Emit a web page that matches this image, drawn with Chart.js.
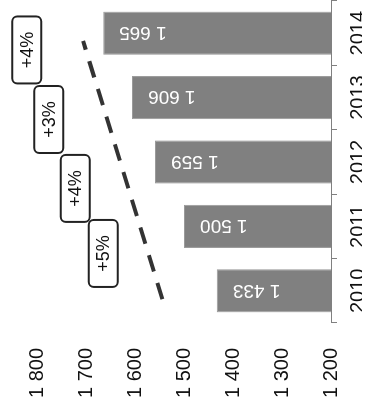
<!DOCTYPE html>
<html><head><meta charset="utf-8">
<script src="https://cdn.jsdelivr.net/npm/chart.js@4"></script>
<style>
html,body{margin:0;padding:0;background:#fff;overflow:hidden;width:368px;height:400px;}
#wrap{position:absolute;left:-16px;top:16px;width:400px;height:368px;transform:rotate(-90deg);transform-origin:50% 50%;}
canvas{display:block;}
</style></head><body>
<div id="wrap"><canvas id="c" width="400" height="368"></canvas></div>
<script>
const years = ['2010', '2011', '2012', '2013', '2014'];
const values = [1433, 1500, 1559, 1606, 1665];
const yTicks = [1200, 1300, 1400, 1500, 1600, 1700, 1800];
const growthLabels = ['+5%', '+4%', '+3%', '+4%'];
const trendX = [-0.13, 3.88];
const trendY = [1544, 1706];

const FONT = '"Liberation Sans", Arial, sans-serif';
const fmt = v => String(v).replace(/\B(?=(\d{3})+(?!\d))/g, ' ');

const barLabels = {
  id: 'barLabels',
  afterDatasetsDraw(chart) {
    const ctx = chart.ctx;
    const meta = chart.getDatasetMeta(0);
    ctx.save();
    ctx.fillStyle = '#ffffff';
    ctx.font = '19px ' + FONT;
    ctx.textAlign = 'right';
    ctx.textBaseline = 'middle';
    meta.data.forEach((bar, i) => {
      ctx.save();
      ctx.translate(bar.x, bar.y + 16);
      ctx.rotate(-Math.PI / 2);
      ctx.fillText(fmt(values[i]), 0, 1);
      ctx.restore();
    });
    ctx.restore();
  }
};

const growthBoxes = {
  id: 'growthBoxes',
  afterDraw(chart, args, opts) {
    const ctx = chart.ctx;
    const xs = chart.scales.x2, ys = chart.scales.y;
    ctx.save();
    ctx.font = '18px ' + FONT;
    ctx.textAlign = 'center';
    ctx.textBaseline = 'middle';
    growthLabels.forEach((t, i) => {
      const a = opts.anchors[i];
      const cx = xs.getPixelForValue(a[0]);
      const cy = ys.getPixelForValue(a[1]);
      const w = opts.w, h = opts.h;
      ctx.beginPath();
      ctx.roundRect(cx - w / 2, cy - h / 2, w, h, opts.r);
      ctx.fillStyle = '#ffffff';
      ctx.fill();
      ctx.lineWidth = 2;
      ctx.strokeStyle = '#222222';
      ctx.stroke();
      ctx.fillStyle = '#111111';
      ctx.fillText(t, cx, cy + 1);
    });
    ctx.restore();
  }
};

new Chart(document.getElementById('c'), {
  type: 'bar',
  data: {
    labels: years,
    datasets: [
      {
        type: 'bar',
        data: values,
        backgroundColor: '#808080',
        borderColor: '#9a9a9a',
        borderWidth: 1,
        categoryPercentage: 1,
        barPercentage: 0.67,
        grouped: false,
        xAxisID: 'x',
        yAxisID: 'y',
        order: 2
      },
      {
        type: 'line',
        data: trendX.map((x, i) => ({ x: x, y: trendY[i] })),
        xAxisID: 'x2',
        yAxisID: 'y',
        borderColor: '#333333',
        borderWidth: 4,
        borderDash: [17, 12],
        borderCapStyle: 'butt',
        pointRadius: 0,
        fill: false,
        order: 1
      }
    ]
  },
  options: {
    responsive: false,
    devicePixelRatio: 1,
    animation: false,
    events: [],
    layout: { padding: { top: 37, right: 1, left: 0, bottom: 0 } },
    plugins: {
      legend: { display: false },
      tooltip: { enabled: false },
      growthBoxes: { anchors: [[0.58, 1665], [1.59, 1722], [2.66, 1776], [3.74, 1821]], w: 67, h: 29, r: 5 }
    },
    scales: {
      x: {
        type: 'category',
        position: 'bottom',
        offset: true,
        grid: { display: true, drawOnChartArea: false, drawTicks: true, tickLength: 6, color: '#808080', offset: true },
        border: { display: true, color: '#808080', width: 1 },
        ticks: { color: '#111111', font: { family: FONT, size: 20 }, padding: 9, maxRotation: 0, minRotation: 0 },
        afterFit: s => { s.height = 31; }
      },
      x2: {
        type: 'linear',
        display: false,
        offset: false,
        grid: { offset: false },
        min: -0.5,
        max: 4.5
      },
      y: {
        type: 'linear',
        position: 'left',
        min: yTicks[0],
        max: yTicks[yTicks.length - 1],
        grid: { display: false, drawTicks: false },
        border: { display: false },
        ticks: { stepSize: yTicks[1] - yTicks[0], color: '#111111', font: { family: FONT, size: 20 }, padding: 25, callback: v => fmt(v) },
        afterFit: s => { s.width = 77; }
      }
    }
  },
  plugins: [barLabels, growthBoxes]
});
</script>
</body></html>
